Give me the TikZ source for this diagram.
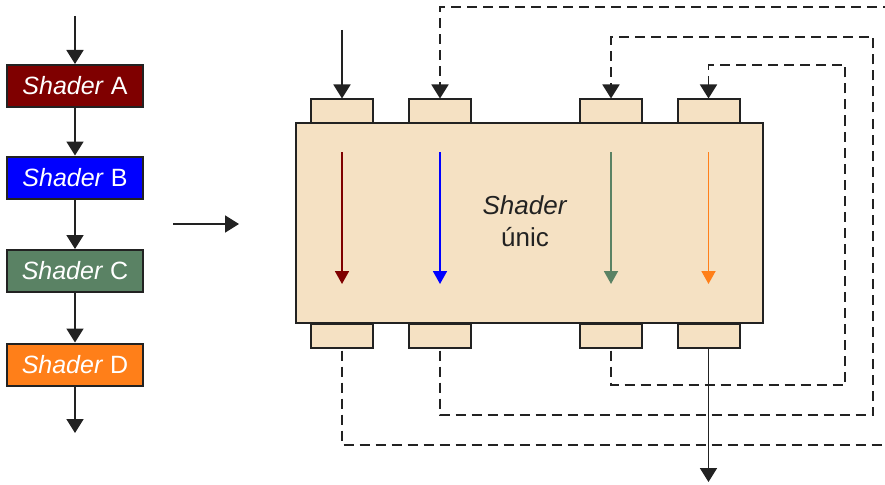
\documentclass[tikz,border=0pt]{standalone}
\usepackage{fontspec}
\setmainfont{Liberation Sans}
\usetikzlibrary{arrows.meta}
\definecolor{cA}{HTML}{7F0000}
\definecolor{cB}{HTML}{0000FF}
\definecolor{cC}{HTML}{5A8264}
\definecolor{cD}{HTML}{FF7F19}
\definecolor{tan}{HTML}{F5E1C3}
\definecolor{edge}{HTML}{222222}
\tikzset{
  sbox/.style={draw=edge, line width=2pt, minimum width=136pt, minimum height=42pt, inner sep=0pt, text=white, font=\fontsize{25}{28}\selectfont},
  port/.style={draw=edge, fill=tan, line width=2pt, minimum width=62pt, minimum height=24pt, inner sep=0pt},
  arr/.style={draw=edge, line width=1.8pt, -{Triangle[length=14pt,width=17pt]}},
  darr/.style={arr, dash pattern=on 10pt off 6pt},
  carr/.style={line width=1.8pt, -{Triangle[length=13pt,width=14pt]}},
}
\begin{document}
\begin{tikzpicture}[x=1pt,y=-1pt]
\useasboundingbox (0,0) rectangle (885,484);
% left chain
\coordinate (in) at (75,16);
\coordinate (out) at (75,433);
\node[sbox, fill=cA] (A) at (75,86) {\textit{Shader} A};
\node[sbox, fill=cB] (B) at (75,177.5) {\textit{Shader} B};
\node[sbox, fill=cC] (C) at (75,271) {\textit{Shader} C};
\node[sbox, fill=cD] (D) at (75,364.5) {\textit{Shader} D};
\draw[arr] (in) -- (A.north);
\draw[arr] (A.south) -- (B.north);
\draw[arr] (B.south) -- (C.north);
\draw[arr] (C.south) -- (D.north);
\draw[arr] (D.south) -- (out);
% middle arrow
\coordinate (h1) at (173,224);
\coordinate (h2) at (239,224);
\draw[arr] (h1) -- (h2);
% ports
\node[port] (t1) at (342,111.5) {};
\node[port] (t2) at (440,111.5) {};
\node[port] (t3) at (611,111.5) {};
\node[port] (t4) at (708.5,111.5) {};
\node[port] (b1) at (342,335.5) {};
\node[port] (b2) at (440,335.5) {};
\node[port] (b3) at (611,335.5) {};
\node[port] (b4) at (708.5,335.5) {};
% big box
\node[draw=edge, fill=tan, line width=2pt, minimum width=467pt, minimum height=200pt, inner sep=0pt] (big) at (529.5,223) {};
\node[align=center, font=\fontsize{26}{32}\selectfont, text=edge] (lbl) at (525,221) {\textit{Shader}\\únic};
% inner colored arrows
\foreach \n/\x/\c in {1/342/cA,2/440/cB,3/611/cC,4/708.5/cD}{
  \coordinate (s\n) at (\x,152);
  \coordinate (e\n) at (\x,284);
  \draw[carr, draw=\c, fill=\c] (s\n) -- (e\n);
}
% input / output
\coordinate (tin) at (342,30);
\coordinate (tout) at (708.5,482);
\draw[arr] (tin) -- (t1.north);
\draw[arr] (b4.south) -- (tout);
% feedback loops
\coordinate (l1a) at (895,445);
\coordinate (l1b) at (895,7);
\coordinate (l2a) at (873,415);
\coordinate (l2b) at (873,37);
\coordinate (l3a) at (845,385);
\coordinate (l3b) at (845,65);
\draw[darr] ([yshift=-2pt]b1.south) |- (l1a) -- (l1b) -| (t2.north);
\draw[darr] ([yshift=-2pt]b2.south) |- (l2a) -- (l2b) -| (t3.north);
\draw[darr] ([yshift=-2pt]b3.south) |- (l3a) -- (l3b) -| (t4.north);
\end{tikzpicture}
\end{document}
